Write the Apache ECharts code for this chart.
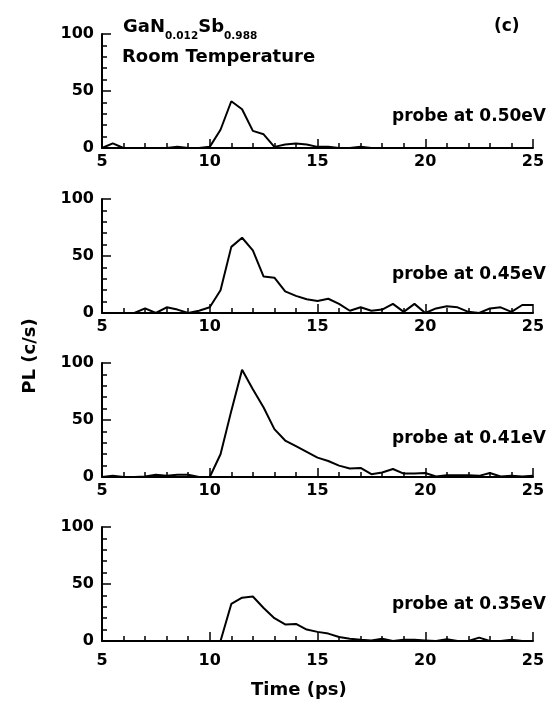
<!DOCTYPE html>
<html>
<head>
<meta charset="utf-8">
<script src="https://cdn.jsdelivr.net/npm/echarts@6/dist/echarts.min.js"></script>
<style>
  html, body { margin: 0; padding: 0; background: #fff; }
  #chart { width: 557px; height: 714px; }
</style>
</head>
<body>
<div id="chart"></div>
<script>
// time axis, sampled every 0.5 ps from 5 to 25
var times = [];
for (var i = 0; i <= 40; i++) times.push(5 + i * 0.5);

var probeLabels = ['probe at 0.50eV', 'probe at 0.45eV', 'probe at 0.41eV', 'probe at 0.35eV'];

var pl050 = [0, 4, 0, 0, 0, 0, 0, 1, 0, 0, 1, 16, 41, 34, 15, 12, 1, 3, 4, 3, 1,
             1, 0, 0, 1, 0, 0, 0, 0, 0, 0, 0, 0, 0, 0, 0, 0, 0, 0, 0, 0];
var pl045 = [0, 0, 0, 0, 4, 0, 5, 3, 0, 2, 5, 20, 58, 66, 55, 32, 31, 19, 15, 12, 10.5,
             12.5, 8, 2, 5, 2, 3, 8, 1, 8, 0, 4, 6, 5, 1, 0, 4, 5, 1, 7, 7];
var pl041 = [0, 1, 0, 0, 0.5, 2, 1, 2, 2, 0, 0, 20, 58, 94, 77, 61, 42, 32, 27, 22, 17,
             14, 10, 7.5, 8, 2.5, 4, 7, 3, 3, 3.5, 0.5, 1.5, 1.5, 1.5, 1, 3.5, 0.5, 1, 0.5, 1];
var pl035 = [0, 0, 0, 0, 0, 0, 0, 0, 0, 0, 0, 0, 32.5, 38, 39, 29, 20, 14.5, 15, 10, 8,
             6.5, 3.5, 2, 1, 0.5, 2, 0, 1, 1, 0.5, 0, 1.5, 0, 0, 3, 0, 0, 1, 0, 0];

var allSeries = [pl050, pl045, pl041, pl035];

var xTicks = [5, 10, 15, 20, 25];
var yTicks = [0, 50, 100];

(function() {
	var chart = echarts.init(document.getElementById('chart'));
	var FONT = 'DejaVu Sans';
	var gridTops = [34, 199, 363, 527];
	var probeTops = [108, 266, 430, 596];
	var labelMargins = [6, 6, 6, 12];
	var grids = [], xAxes = [], yAxes = [], series = [], graphics = [];

	gridTops.forEach(function(top, k) {
		grids.push({ left: 102, right: 24, top: top, height: 114 });
		xAxes.push({
			type: 'value', gridIndex: k, min: xTicks[0], max: xTicks[xTicks.length - 1],
			interval: xTicks[1] - xTicks[0],
			axisLine: { lineStyle: { color: '#000', width: 2 } },
			axisTick: { inside: true, length: 9, lineStyle: { color: '#000', width: 1.5 } },
			minorTick: { show: true, splitNumber: 5, length: 5, lineStyle: { color: '#000', width: 1.5 } },
			axisLabel: { color: '#000', fontFamily: FONT, fontWeight: 'bold', fontSize: 16, margin: labelMargins[k] },
			splitLine: { show: false }
		});
		yAxes.push({
			type: 'value', gridIndex: k, min: yTicks[0], max: yTicks[yTicks.length - 1],
			interval: yTicks[1] - yTicks[0],
			axisLine: { show: true, lineStyle: { color: '#000', width: 2 } },
			axisTick: { show: true, inside: true, length: 9, lineStyle: { color: '#000', width: 1.5 } },
			minorTick: { show: true, splitNumber: 5, length: 5, lineStyle: { color: '#000', width: 1.5 } },
			axisLabel: { color: '#000', fontFamily: FONT, fontWeight: 'bold', fontSize: 16, margin: 8 },
			splitLine: { show: false }
		});
		series.push({
			type: 'line', xAxisIndex: k, yAxisIndex: k,
			data: times.map(function(t, i) { return [t, allSeries[k][i]]; }),
			showSymbol: false, symbol: 'none',
			lineStyle: { color: '#000', width: 2 },
			z: 1
		});
		graphics.push({
			type: 'text', right: 11, top: probeTops[k],
			style: { text: probeLabels[k], fill: '#000', font: 'bold 17px ' + FONT }
		});
	});

	//样品名称及温度标注
	graphics.push({
		type: 'text', left: 123, top: 16,
		style: {
			text: '{b|GaN}{s|0.012}{b|Sb}{s|0.988}',
			rich: {
				b: { fontFamily: FONT, fontWeight: 'bold', fontSize: 18, fill: '#000', lineHeight: 22, verticalAlign: 'top' },
				s: { fontFamily: FONT, fontWeight: 'bold', fontSize: 10.5, fill: '#000', lineHeight: 22, padding: [15, 0, 0, 0] }
			}
		}
	});
	graphics.push({
		type: 'text', left: 122, top: 48,
		style: { text: 'Room Temperature', fill: '#000', font: 'bold 18px ' + FONT }
	});
	graphics.push({
		type: 'text', left: 494, top: 18,
		style: { text: '(c)', fill: '#000', font: 'bold 17px ' + FONT }
	});
	graphics.push({
		type: 'text', left: 251, top: 681,
		style: { text: 'Time (ps)', fill: '#000', font: 'bold 18px ' + FONT }
	});
	graphics.push({
		type: 'text', x: 30, y: 356, rotation: Math.PI / 2,
		style: { text: 'PL (c/s)', fill: '#000', font: 'bold 18px ' + FONT, align: 'center', verticalAlign: 'middle' }
	});

	chart.setOption({
		backgroundColor: '#fff',
		animation: false,
		grid: grids,
		xAxis: xAxes,
		yAxis: yAxes,
		series: series,
		graphic: graphics
	});
})();
</script>
</body>
</html>
